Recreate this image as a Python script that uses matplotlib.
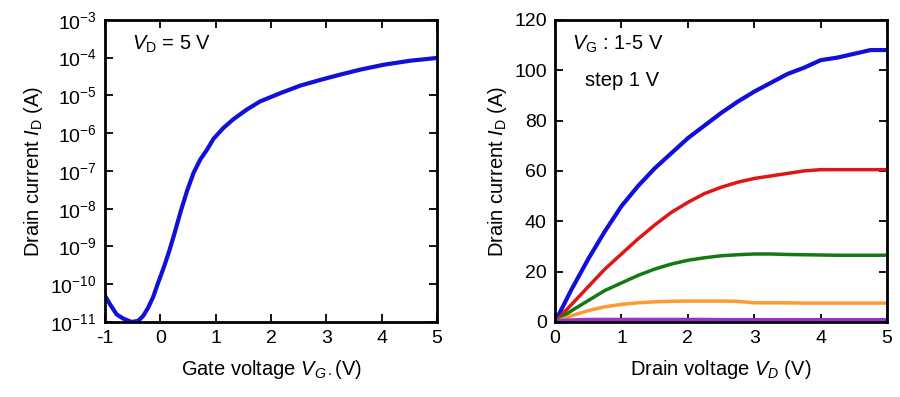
import numpy as np
import matplotlib.pyplot as plt
from matplotlib.ticker import LogLocator, NullLocator

plt.rcParams['font.family'] = ['Liberation Sans', 'DejaVu Sans']
plt.rcParams['mathtext.fontset'] = 'custom'
plt.rcParams['mathtext.rm'] = 'Liberation Sans'
plt.rcParams['mathtext.it'] = 'Liberation Sans:italic'
plt.rcParams['mathtext.default'] = 'regular'
plt.rcParams['axes.unicode_minus'] = False

# transfer curve, VD = 5 V
vg = [-1.0, -0.91, -0.79, -0.67, -0.52, -0.40, -0.31, -0.22, -0.13, -0.04,
      0.06, 0.15, 0.24, 0.36, 0.48, 0.60, 0.72, 0.84, 0.96, 1.14,
      1.32, 1.56, 1.80, 2.17, 2.53, 2.89, 3.25, 3.61, 4.04, 4.52, 5.0]
id_transfer = [4.9e-11, 2.95e-11, 1.58e-11, 1.23e-11, 1.0e-11, 1.07e-11, 1.45e-11,
               2.4e-11, 4.6e-11, 1.1e-10, 2.75e-10, 6.8e-10, 1.86e-9, 7.8e-9,
               2.9e-8, 8.9e-8, 2.0e-7, 3.6e-7, 7.1e-7, 1.38e-6, 2.34e-6, 4.2e-6,
               6.9e-6, 1.15e-5, 1.82e-5, 2.57e-5, 3.55e-5, 4.8e-5, 6.5e-5, 8.3e-5, 9.8e-5]

# output curves, VG = 1..5 V
vd = [0, 0.25, 0.5, 0.75, 1.0, 1.25, 1.5, 1.75, 2.0, 2.25, 2.5, 2.75,
      3.0, 3.25, 3.5, 3.75, 4.0, 4.25, 4.5, 4.75, 5.0]
id_vg5 = [0, 13, 25, 36, 46, 54, 61, 67, 73, 78, 83, 87.5,
          91.5, 95, 98.5, 101, 104, 105, 106.5, 108, 108]
id_vg4 = [0, 7, 14, 21, 27, 33, 38.5, 43.5, 47.5, 51, 53.5, 55.5,
          57, 58, 59, 60, 60.5, 60.5, 60.5, 60.5, 60.5]
id_vg3 = [0, 4.5, 8.5, 12.5, 15.5, 18.5, 21, 23, 24.5, 25.5, 26.3, 26.7,
          27, 27, 26.8, 26.7, 26.6, 26.5, 26.5, 26.5, 26.5]
id_vg2 = [0, 2.5, 4.5, 6, 7, 7.6, 8, 8.2, 8.3, 8.3, 8.3, 8.2,
          7.6, 7.6, 7.6, 7.5, 7.5, 7.5, 7.5, 7.5, 7.5]
id_vg1 = [0.5, 0.8, 1.0, 1.0, 1.0, 1.0, 1.0, 1.0, 1.0, 1.0, 0.9, 0.9,
          0.9, 0.9, 0.9, 0.9, 0.9, 0.9, 0.9, 0.9, 0.9]

fig = plt.figure(figsize=(9, 3.97), dpi=100)
ax1 = fig.add_axes([0.1167, 0.189, 0.369, 0.761])
ax2 = fig.add_axes([0.6167, 0.189, 0.369, 0.761])

for ax in (ax1, ax2):
    for s in ax.spines.values():
        s.set_linewidth(2)
    ax.tick_params(direction='in', length=6, width=1.3, top=True, right=True,
                   labelsize=14, pad=6)

ax1.semilogy(vg, id_transfer, color='#1010d8', lw=3, solid_joinstyle='round')
ax1.set_xlim(-1, 5)
ax1.set_ylim(1e-11, 1e-3)
ax1.yaxis.set_major_locator(LogLocator(base=10, numticks=20))
ax1.yaxis.set_minor_locator(NullLocator())
ax1.set_xticks(range(-1, 6))
ax1.set_xlabel(r'Gate voltage $\mathit{V}_{\mathit{G}\cdot}$(V)', fontsize=14.5, labelpad=8)
ax1.set_ylabel(r'Drain current $\mathit{I}_{D}$ (A)', fontsize=14.5, labelpad=4)
ax1.text(0.08, 0.90, r'$\mathit{V}_{D}$ = 5 V', transform=ax1.transAxes, fontsize=14.5)

ax2.plot(vd, id_vg5, color='#1010d8', lw=3)
ax2.plot(vd, id_vg4, color='#e01515', lw=2.5)
ax2.plot(vd, id_vg3, color='#137a13', lw=2.5)
ax2.plot(vd, id_vg2, color='#ff9a33', lw=2.5)
ax2.plot(vd, id_vg1, color='#9a30d0', lw=2.5)
ax2.set_xlim(0, 5)
ax2.set_ylim(0, 120)
ax2.set_xticks(range(0, 6))
ax2.set_yticks(range(0, 121, 20))
ax2.set_xlabel(r'Drain voltage $\mathit{V}_{\mathit{D}}$ (V)', fontsize=14.5, labelpad=8)
ax2.set_ylabel(r'Drain current $\mathit{I}_{D}$ (A)', fontsize=14.5, labelpad=4)
ax2.text(0.05, 0.90, r'$\mathit{V}_{G}$ : 1-5 V', transform=ax2.transAxes, fontsize=14.5)
ax2.text(0.09, 0.78, 'step 1 V', transform=ax2.transAxes, fontsize=14.5)

fig.savefig('out.png', dpi=100)
